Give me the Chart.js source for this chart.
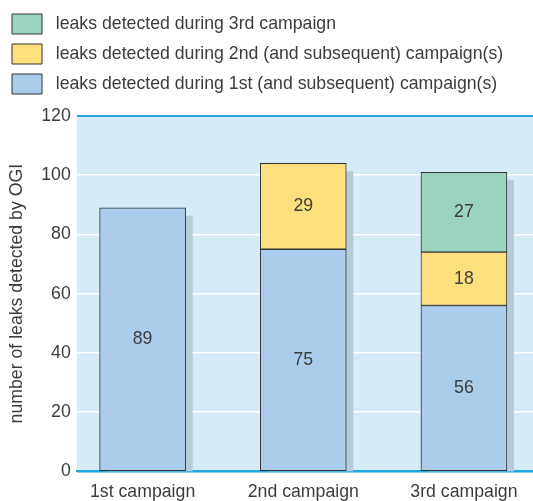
<!DOCTYPE html>
<html>
<head>
<meta charset="utf-8">
<script src="https://cdn.jsdelivr.net/npm/chart.js@4"></script>
<style>
  body { margin: 0; background: #fff; }
  #wrap { width: 533px; height: 501px; }
</style>
</head>
<body>
<div id="wrap"><canvas id="leakChart" width="533" height="501"></canvas></div>
<script>
const campaigns = ["1st campaign", "2nd campaign", "3rd campaign"];
const firstLeaks = [89, 75, 56];
const secondLeaks = [null, 29, 18];
const thirdLeaks = [null, null, 27];
const yTicks = [0, 20, 40, 60, 80, 100, 120];

const textColor = "#3c3c3c";
const fontFamily = "'Liberation Sans', Arial, sans-serif";
const fontSize = 17.7;

function toPoints(values) {
  return values.map((v, i) => ({ x: i, y: v }));
}

// light blue panel behind the plot
const panelBg = {
  id: "panelBg",
  beforeDraw(chart) {
    const { ctx, chartArea } = chart;
    ctx.save();
    ctx.fillStyle = "#d6ebf8";
    ctx.fillRect(chartArea.left, chartArea.top, chartArea.right - chartArea.left, chartArea.bottom - chartArea.top);
    ctx.restore();
  },
};

// extra room under the legend
const legendGap = {
  id: "legendGap",
  beforeInit(chart) {
    const fit = chart.legend.fit;
    chart.legend.fit = function () {
      fit.call(this);
      this.height += 12;
    };
  },
};

// grey drop shadow behind each stack
const barShadow = {
  id: "barShadow",
  beforeDatasetsDraw(chart) {
    const ctx = chart.ctx;
    const base = chart.scales.y.getPixelForValue(0);
    const first = chart.getDatasetMeta(0).data;
    ctx.save();
    ctx.fillStyle = "#b5cbd7";
    first.forEach((el, i) => {
      let top = el.y;
      chart.data.datasets.forEach((ds, d) => {
        const e = chart.getDatasetMeta(d).data[i];
        if (ds.data[i].y !== null && e.y < top) top = e.y;
      });
      ctx.fillRect(el.x - el.width / 2 + 7, top + 8, el.width, base - top - 8);
    });
    ctx.restore();
  },
};

// value written in the middle of each segment
const segmentLabels = {
  id: "segmentLabels",
  afterDatasetsDraw(chart) {
    const ctx = chart.ctx;
    ctx.save();
    ctx.fillStyle = textColor;
    ctx.font = fontSize + "px " + fontFamily;
    ctx.textAlign = "center";
    ctx.textBaseline = "middle";
    chart.data.datasets.forEach((ds, d) => {
      chart.getDatasetMeta(d).data.forEach((el, i) => {
        const v = ds.data[i].y;
        if (v === null) return;
        ctx.fillText(v, el.x, (el.y + el.base) / 2);
      });
    });
    ctx.restore();
  },
};

new Chart(document.getElementById("leakChart"), {
  type: "bar",
  data: {
    datasets: [
      {
        label: "leaks detected during 1st (and subsequent) campaign(s)",
        data: toPoints(firstLeaks),
        backgroundColor: "#abcdeb",
      },
      {
        label: "leaks detected during 2nd (and subsequent) campaign(s)",
        data: toPoints(secondLeaks),
        backgroundColor: "#fedf7e",
      },
      {
        label: "leaks detected during 3rd campaign",
        data: toPoints(thirdLeaks),
        backgroundColor: "#9ad4bf",
      },
    ],
  },
  plugins: [panelBg, legendGap, barShadow, segmentLabels],
  options: {
    responsive: false,
    animation: false,
    layout: { padding: { top: 4, left: 2, right: 0, bottom: -12 } },
    datasets: {
      bar: {
        borderColor: "#333",
        borderWidth: 1,
        borderSkipped: false,
        barThickness: 86,
      },
    },
    plugins: {
      legend: {
        position: "top",
        align: "start",
        reverse: true,
        labels: {
          boxWidth: 30,
          boxHeight: 20,
          padding: 10,
          color: textColor,
          font: { family: fontFamily, size: fontSize },
          generateLabels(chart) {
            const items = Chart.defaults.plugins.legend.labels.generateLabels(chart);
            items.forEach((it) => {
              it.text = " " + it.text;
              it.lineWidth = 1;
              it.strokeStyle = "#333";
            });
            return items;
          },
        },
        onClick: null,
      },
      tooltip: { enabled: false },
    },
    scales: {
      x: {
        type: "linear",
        stacked: true,
        offset: false,
        min: -0.41,
        max: 2.43,
        afterBuildTicks(scale) {
          scale.ticks = campaigns.map((c, i) => ({ value: i }));
        },
        grid: { display: false, drawTicks: false },
        border: { color: "#1ea8e0", width: 2 },
        ticks: {
          color: textColor,
          font: { family: fontFamily, size: fontSize, lineHeight: 1 },
          padding: 12,
          maxRotation: 0,
          autoSkip: false,
          callback: (v) => campaigns[v],
        },
      },
      y: {
        stacked: true,
        min: 0,
        max: 120,
        afterBuildTicks(scale) {
          scale.ticks = yTicks.map((v) => ({ value: v }));
        },
        border: { display: false },
        grid: {
          drawTicks: false,
          lineWidth: (c) => (c.tick && c.tick.value === 120 ? 2 : 1.5),
          color: (c) => (c.tick && (c.tick.value === 120 || c.tick.value === 0) ? "#1ea8e0" : "#ffffff"),
        },
        ticks: {
          color: textColor,
          font: { family: fontFamily, size: fontSize },
          padding: 6,
        },
        title: {
          display: true,
          text: "number of leaks detected by OGI",
          color: textColor,
          font: { family: fontFamily, size: fontSize },
          padding: { top: 4, bottom: 8 },
        },
      },
    },
  },
});
</script>
</body>
</html>
